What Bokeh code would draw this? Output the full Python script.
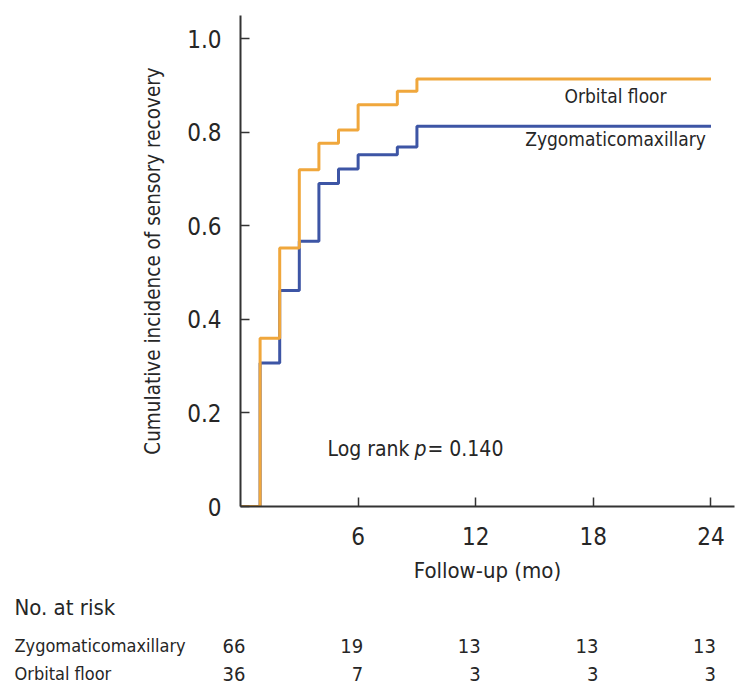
from bokeh.plotting import figure
from bokeh.models import Range1d, FixedTicker, CustomJSTickFormatter, Label, ColumnDataSource
from bokeh.embed import file_html
from bokeh.resources import INLINE
from bokeh.core.properties import value

# ---- data ----
months = [0, 1, 2, 3, 4, 5, 6, 8, 9, 24]
orbital_floor = [0, 0.360, 0.553, 0.720, 0.777, 0.805, 0.859, 0.888, 0.914, 0.914]
zygomaticomaxillary = [0, 0.307, 0.462, 0.567, 0.691, 0.722, 0.752, 0.769, 0.813, 0.813]

risk_times = [0, 6, 12, 18, 24]
risk_zygomaticomaxillary = [66, 19, 13, 13, 13]
risk_orbital_floor = [36, 7, 3, 3, 3]
risk_rows = ["Zygomaticomaxillary", "Orbital floor"]

x_ticks = [6, 12, 18, 24]
y_ticks = [0, 0.2, 0.4, 0.6, 0.8, 1.0]

ORANGE = "#F0A73C"
BLUE = "#3D55A5"
TXT = "#262626"
AX = "#333333"
FONT = "DejaVu Sans Condensed"

# ---- layout constants (pixels) ----
W, H1, H2 = 740, 592, 103
FRAME_LEFT, FRAME_W = 240, 494
FRAME_TOP, FRAME_H = 15, 491
X_END, Y_END = 25.2, 1.05
PXX = FRAME_W / X_END
PXY = FRAME_H / Y_END
FRAME_BOTTOM = FRAME_TOP + FRAME_H


def dx(px):  # page x pixel -> data x
    return (px - FRAME_LEFT) / PXX


def dy(py):  # page y pixel -> data y
    return (FRAME_BOTTOM - py) / PXY


p = figure(width=W, height=H1, output_backend="svg", toolbar_location=None,
           x_range=Range1d(0, X_END), y_range=Range1d(0, Y_END),
           min_border_left=FRAME_LEFT, min_border_right=W - FRAME_LEFT - FRAME_W,
           min_border_top=FRAME_TOP, min_border_bottom=H1 - FRAME_BOTTOM)
p.outline_line_color = None
p.grid.visible = False

p.step(months, zygomaticomaxillary, mode="after", line_color=BLUE, line_width=3)
p.step(months, orbital_floor, mode="after", line_color=ORANGE, line_width=3)

for ax in (p.xaxis[0], p.yaxis[0]):
    ax.axis_line_color = AX
    ax.axis_line_width = 2
    ax.major_tick_line_color = AX
    ax.major_tick_line_width = 1.5
    ax.major_tick_in = 9
    ax.major_tick_out = 0
    ax.minor_tick_line_color = None
    ax.major_label_text_font = FONT
    ax.major_label_text_color = TXT
    ax.axis_label_text_font = FONT
    ax.axis_label_text_color = TXT
    ax.axis_label_text_font_style = "normal"

p.xaxis.ticker = FixedTicker(ticks=x_ticks)
p.yaxis.ticker = FixedTicker(ticks=y_ticks)
p.yaxis.formatter = CustomJSTickFormatter(code="return tick == 0 ? '0' : tick.toFixed(1);")
p.xaxis.major_label_text_font_size = "24px"
p.yaxis.major_label_text_font_size = "24px"
p.xaxis.major_label_standoff = 20
p.yaxis.major_label_standoff = 19
p.xaxis.axis_label = "Follow-up (mo)"
p.yaxis.axis_label = "Cumulative incidence of sensory recovery"
p.xaxis.axis_label_text_font_size = "22px"
p.yaxis.axis_label_text_font_size = "20.5px"
p.xaxis.axis_label_standoff = 10
p.yaxis.axis_label_standoff = 19


def lab(x, y, text, size, align="left", baseline="middle", style="normal"):
    p.add_layout(Label(x=x, y=y, text=text, text_align=align, text_baseline=baseline,
                       text_font=FONT, text_font_size=size, text_font_style=style,
                       text_color=TXT))


# curve labels
lab(dx(615), dy(95), "Orbital floor", "19px", align="center")
lab(dx(615), dy(138), "Zygomaticomaxillary", "19px", align="center")

# log rank annotation
lab(dx(327), dy(448), "Log rank", "21px", baseline="alphabetic")
lab(dx(414), dy(448), "p", "21px", baseline="alphabetic", style="italic")
lab(dx(427), dy(448), "= 0.140", "21px", baseline="alphabetic")

# ---- number at risk table (separate root, frame spans the whole width) ----
t = figure(width=W, height=H2, output_backend="svg", toolbar_location=None,
           x_range=Range1d(dx(0), dx(W)), y_range=Range1d(H2, 0),
           x_axis_location=None, y_axis_location=None, min_border=0)
t.outline_line_color = None
t.grid.visible = False

Y0 = H1  # page y of table top
row_y = [645 - Y0, 673 - Y0]
t.text(x=[dx(14)], y=[607 - Y0], text=["No. at risk"], text_font=value(FONT),
       text_font_size="22px", text_color=TXT, text_baseline="middle", text_align="left")
t.text(x=[dx(14)] * len(risk_rows), y=row_y, text=risk_rows, text_font=value(FONT),
       text_font_size="18px", text_color=TXT, text_baseline="middle", text_align="left")

off = 5 / PXX
src = ColumnDataSource(dict(
    x=[tm + off for tm in risk_times] * 2,
    y=[row_y[0]] * len(risk_times) + [row_y[1]] * len(risk_times),
    n=[str(v) for v in risk_zygomaticomaxillary] + [str(v) for v in risk_orbital_floor],
))
t.text(x="x", y="y", text="n", source=src, text_font=value(FONT), text_font_size="20px",
       text_color=TXT, text_baseline="middle", text_align="right")

open("out.html", "w").write(file_html([p, t], INLINE))
